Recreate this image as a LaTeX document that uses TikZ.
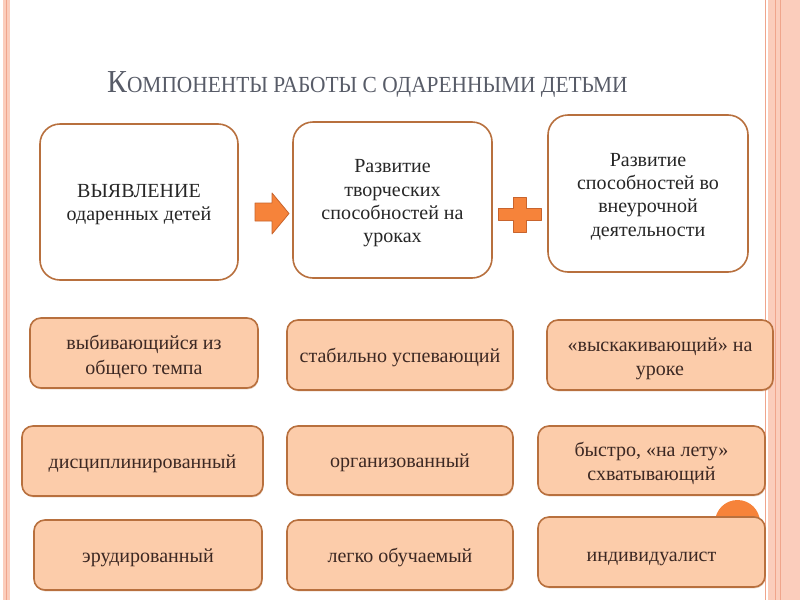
\documentclass[tikz,border=0pt]{standalone}
\usepackage{fontspec}
\usetikzlibrary{shadows}
\setmainfont{Liberation Serif}
\definecolor{brownline}{RGB}{184,112,62}
\definecolor{peach}{RGB}{252,204,170}
\definecolor{orangefill}{RGB}{246,131,58}
\definecolor{orangeline}{RGB}{200,100,45}
\definecolor{stripe}{RGB}{251,205,188}
\definecolor{stripeline}{RGB}{240,165,140}
\definecolor{titlegray}{RGB}{88,92,104}
\definecolor{boxtext}{RGB}{60,40,35}
\newcommand\shiftdown[2]{\raisebox{-#1}[\height][\depth]{\begin{tabular}{@{}c@{}}#2\end{tabular}}}
\tikzset{
  topbox/.style={draw=brownline, line width=1.6pt, fill=white, rounded corners=20pt,
    align=center, font=\fontsize{20}{23.3}\selectfont, text=black!85, inner sep=0pt},
  subbox/.style={draw=brownline, line width=1.6pt, fill=peach, rounded corners=11pt,
    align=center, font=\fontsize{20}{24.5}\selectfont, text=boxtext, inner sep=0pt,
    minimum height=70pt,
    drop shadow={shadow xshift=0.6pt, shadow yshift=-1.4pt, opacity=0.35, fill=brownline}},
  shapefill/.style={fill=orangefill, draw=orangeline, line width=0.8pt, line join=round}
}
\begin{document}
\begin{tikzpicture}[x=1pt,y=-1pt]
\useasboundingbox (0,0) rectangle (800,600);
\fill[white] (0,0) rectangle (800,600);
% frame stripes
\fill[stripe] (3,0) rectangle (10,600);
\draw[stripeline, line width=0.8pt] (6.5,0) -- (6.5,600);
\draw[stripeline, line width=1pt] (765.5,0) -- (765.5,600);
\fill[stripe] (768,0) rectangle (800,600);
\draw[stripeline, line width=1pt] (775,0) -- (775,600);
\draw[stripeline, line width=1pt] (780,0) -- (780,600);
% title
\node[anchor=base west, text=titlegray, inner sep=0pt] (title) at (107,92)
  {\scalebox{0.93}[1]{\fontsize{32}{32}\selectfont К\fontsize{23}{23}\selectfont ОМПОНЕНТЫ РАБОТЫ С ОДАРЕННЫМИ ДЕТЬМИ}};
% top boxes
\node[topbox, minimum width=198pt, minimum height=156pt] (b1) at (139,202)
  {\shiftdown{2pt}{ВЫЯВЛЕНИЕ\\одаренных детей}};
\node[topbox, minimum width=199pt, minimum height=156pt] (b2) at (392.5,200)
  {\shiftdown{3pt}{Развитие\\творческих\\способностей на\\уроках}};
\node[topbox, minimum width=200pt, minimum height=157pt] (b3) at (648,193.5)
  {\shiftdown{3pt}{Развитие\\способностей во\\внеурочной\\деятельности}};
% arrow
\draw[shapefill] (255,203) -- (272,203) -- (272,193) -- (289,213.5) -- (272,234) -- (272,221) -- (255,221) -- cycle;
% plus
\draw[shapefill] (513,197) -- (526,197) -- (526,208) -- (541,208) -- (541,220) -- (526,220) -- (526,232) -- (513,232) -- (513,220) -- (498,220) -- (498,208) -- (513,208) -- cycle;
% orange circle
\fill[orangefill] (737.5,522.5) circle (22.5);
% sub boxes
\node[subbox, minimum width=228pt] (s11) at (144,353) {\shiftdown{4pt}{выбивающийся из\\общего темпа}};
\node[subbox, minimum width=226pt] (s12) at (400,355) {\shiftdown{3pt}{стабильно успевающий}};
\node[subbox, minimum width=226pt] (s13) at (660,355) {\shiftdown{3.5pt}{«выскакивающий» на\\уроке}};
\node[subbox, minimum width=241pt] (s21) at (142.5,461) {\shiftdown{3pt}{дисциплинированный}};
\node[subbox, minimum width=226pt, minimum height=69pt] (s22) at (400,460.5) {\shiftdown{2.5pt}{организованный}};
\node[subbox, minimum width=227pt, minimum height=69pt] (s23) at (651.5,460.5) {\shiftdown{3pt}{быстро, «на лету»\\схватывающий}};
\node[subbox, minimum width=228pt] (s31) at (148,555) {\shiftdown{3pt}{эрудированный}};
\node[subbox, minimum width=226pt] (s32) at (400,555) {\shiftdown{3pt}{легко обучаемый}};
\node[subbox, minimum width=227pt] (s33) at (651.5,552) {\shiftdown{5pt}{индивидуалист}};
\end{tikzpicture}
\end{document}
